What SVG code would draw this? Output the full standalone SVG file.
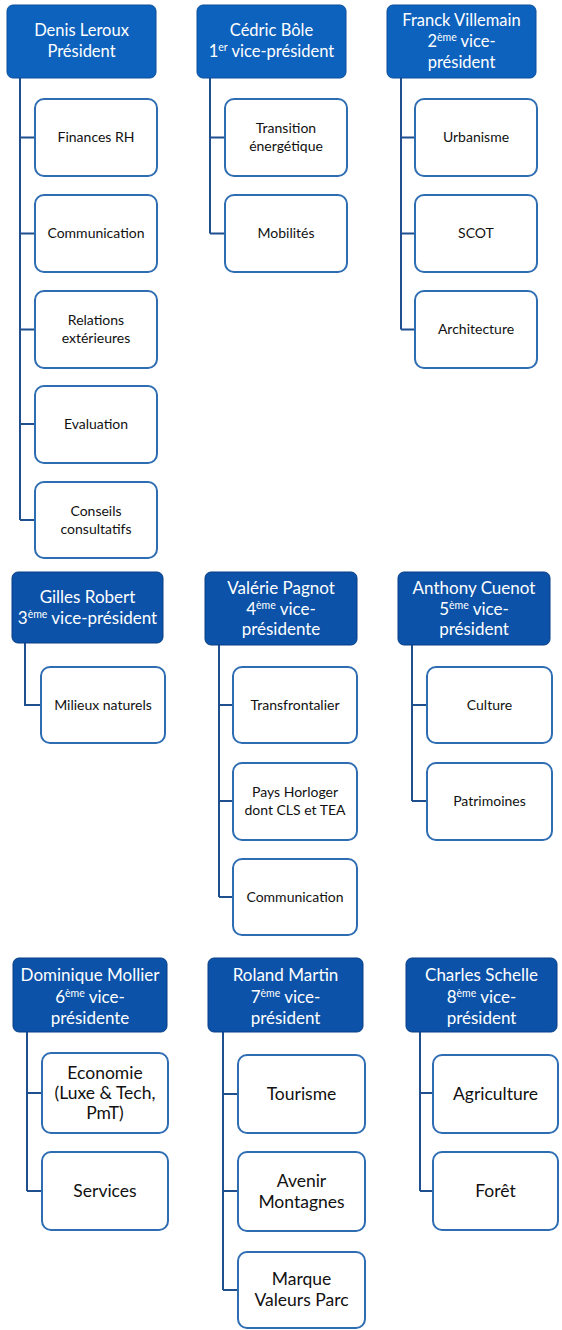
<svg xmlns="http://www.w3.org/2000/svg" width="562" height="1330" viewBox="0 0 562 1330">
<style>
.hd{fill:#0d62bd;stroke:#0a4f9c;stroke-width:1}
.hd2{fill:#0b52a8;stroke:#083f86;stroke-width:1}
.ch{fill:#ffffff;stroke:#2f6db3;stroke-width:2}
.ht{font-family:Lato,"Open Sans",sans-serif;font-size:16.5px;fill:#ffffff;text-anchor:middle}
.ht2{font-family:Lato,"Open Sans",sans-serif;font-size:17px;fill:#ffffff;text-anchor:middle}
.ct{font-family:Lato,"Open Sans",sans-serif;font-size:14px;fill:#111111;text-anchor:middle}
.ct3{font-family:Lato,"Open Sans",sans-serif;font-size:17.5px;fill:#111111;text-anchor:middle}
.sup{font-size:10.5px}
.cn{fill:none;stroke:#1f4f8f;stroke-width:2}
</style>
<rect width="562" height="1330" fill="#ffffff"/>
<g id="connectors">
<path class="cn" d="M20 78V520M20 137.5H35M20 233.5H35M20 329.5H35M20 424H35M20 520H35"/>
<path class="cn" d="M210 78V233.5M210 137.5H225M210 233.5H225"/>
<path class="cn" d="M401 78V329.5M401 137.5H415M401 233.5H415M401 329.5H415"/>
<path class="cn" d="M25 643V705H41"/>
<path class="cn" d="M219 645V897M219 705H233M219 801H233M219 897H233"/>
<path class="cn" d="M412 645V801M412 705H427M412 801H427"/>
<path class="cn" d="M27 1032V1191M27 1093H42M27 1191H42"/>
<path class="cn" d="M223 1032V1290M223 1094H238M223 1191H238M223 1290H238"/>
<path class="cn" d="M420 1032V1191M420 1093H433M420 1191H433"/>
</g>
<g id="denis"><rect class="hd" x="7" y="5" width="149" height="73" rx="6"/><text class="ht" x="81.5" y="36">Denis Leroux</text><text class="ht" x="81.5" y="57">Président</text></g>
<g id="cedric"><rect class="hd" x="197" y="5" width="149" height="73" rx="6"/><text class="ht" x="271.5" y="36">Cédric Bôle</text><text class="ht" x="271.5" y="57">1<tspan class="sup" dy="-6">er</tspan><tspan dy="6"> vice-président</tspan></text></g>
<g id="franck"><rect class="hd" x="387" y="5" width="149" height="73" rx="6"/><text class="ht" x="461.5" y="26">Franck Villemain</text><text class="ht" x="461.5" y="47">2<tspan class="sup" dy="-6">ème</tspan><tspan dy="6"> vice-</tspan></text><text class="ht" x="461.5" y="68">président</text></g>
<g id="finances"><rect class="ch" x="35" y="99" width="122" height="77" rx="9"/><text class="ct" x="96" y="142">Finances RH</text></g>
<g id="communication1"><rect class="ch" x="35" y="195" width="122" height="77" rx="9"/><text class="ct" x="96" y="238">Communication</text></g>
<g id="relations"><rect class="ch" x="35" y="291" width="122" height="77" rx="9"/><text class="ct" x="96" y="325">Relations</text><text class="ct" x="96" y="343">extérieures</text></g>
<g id="evaluation"><rect class="ch" x="35" y="386" width="122" height="77" rx="9"/><text class="ct" x="96" y="429">Evaluation</text></g>
<g id="conseils"><rect class="ch" x="35" y="482" width="122" height="76" rx="9"/><text class="ct" x="96" y="516">Conseils</text><text class="ct" x="96" y="534">consultatifs</text></g>
<g id="transition"><rect class="ch" x="225" y="99" width="122" height="77" rx="9"/><text class="ct" x="286" y="133">Transition</text><text class="ct" x="286" y="151">énergétique</text></g>
<g id="mobilites"><rect class="ch" x="225" y="195" width="122" height="77" rx="9"/><text class="ct" x="286" y="238">Mobilités</text></g>
<g id="urbanisme"><rect class="ch" x="415" y="99" width="122" height="77" rx="9"/><text class="ct" x="476" y="142">Urbanisme</text></g>
<g id="scot"><rect class="ch" x="415" y="195" width="122" height="77" rx="9"/><text class="ct" x="476" y="238">SCOT</text></g>
<g id="architecture"><rect class="ch" x="415" y="291" width="122" height="77" rx="9"/><text class="ct" x="476" y="334">Architecture</text></g>
<g id="gilles"><rect class="hd2" x="12" y="572" width="151" height="71" rx="6"/><text class="ht2" x="87.5" y="603">Gilles Robert</text><text class="ht2" x="87.5" y="624">3<tspan class="sup" dy="-6">ème</tspan><tspan dy="6"> vice-président</tspan></text></g>
<g id="valerie"><rect class="hd2" x="205" y="572" width="152" height="73" rx="6"/><text class="ht2" x="281" y="594">Valérie Pagnot</text><text class="ht2" x="281" y="615">4<tspan class="sup" dy="-6">ème</tspan><tspan dy="6"> vice-</tspan></text><text class="ht2" x="281" y="635">présidente</text></g>
<g id="anthony"><rect class="hd2" x="398" y="572" width="152" height="73" rx="6"/><text class="ht2" x="474" y="594">Anthony Cuenot</text><text class="ht2" x="474" y="615">5<tspan class="sup" dy="-6">ème</tspan><tspan dy="6">  vice-</tspan></text><text class="ht2" x="474" y="635">président</text></g>
<g id="milieux"><rect class="ch" x="41" y="667" width="124" height="76" rx="9"/><text class="ct" x="103" y="710">Milieux naturels</text></g>
<g id="transfrontalier"><rect class="ch" x="233" y="667" width="124" height="76" rx="9"/><text class="ct" x="295" y="710">Transfrontalier</text></g>
<g id="pays"><rect class="ch" x="233" y="763" width="124" height="77" rx="9"/><text class="ct" x="295" y="797">Pays Horloger</text><text class="ct" x="295" y="815">dont CLS et TEA</text></g>
<g id="communication2"><rect class="ch" x="233" y="859" width="124" height="76" rx="9"/><text class="ct" x="295" y="902">Communication</text></g>
<g id="culture"><rect class="ch" x="427" y="667" width="125" height="76" rx="9"/><text class="ct" x="489.5" y="710">Culture</text></g>
<g id="patrimoines"><rect class="ch" x="427" y="763" width="125" height="77" rx="9"/><text class="ct" x="489.5" y="806">Patrimoines</text></g>
<g id="dominique"><rect class="hd2" x="13" y="958" width="154" height="74" rx="6"/><text class="ht2" x="90" y="981">Dominique Mollier</text><text class="ht2" x="90" y="1003">6<tspan class="sup" dy="-6">ème</tspan><tspan dy="6">  vice-</tspan></text><text class="ht2" x="90" y="1024">présidente</text></g>
<g id="roland"><rect class="hd2" x="208" y="958" width="155" height="74" rx="6"/><text class="ht2" x="285.5" y="981">Roland Martin</text><text class="ht2" x="285.5" y="1003">7<tspan class="sup" dy="-6">ème</tspan><tspan dy="6">  vice-</tspan></text><text class="ht2" x="285.5" y="1024">président</text></g>
<g id="charles"><rect class="hd2" x="406" y="958" width="151" height="74" rx="6"/><text class="ht2" x="481.5" y="981">Charles Schelle</text><text class="ht2" x="481.5" y="1003">8<tspan class="sup" dy="-6">ème</tspan><tspan dy="6">  vice-</tspan></text><text class="ht2" x="481.5" y="1024">président</text></g>
<g id="economie"><rect class="ch" x="42" y="1053" width="126" height="80" rx="9"/><text class="ct3" x="105" y="1079">Economie</text><text class="ct3" x="105" y="1099">(Luxe &amp; Tech,</text><text class="ct3" x="105" y="1119">PmT)</text></g>
<g id="services"><rect class="ch" x="42" y="1152" width="126" height="78" rx="9"/><text class="ct3" x="105" y="1197">Services</text></g>
<g id="tourisme"><rect class="ch" x="238" y="1055" width="127" height="78" rx="9"/><text class="ct3" x="301.5" y="1100">Tourisme</text></g>
<g id="avenir"><rect class="ch" x="238" y="1152" width="127" height="79" rx="9"/><text class="ct3" x="301.5" y="1187">Avenir</text><text class="ct3" x="301.5" y="1208">Montagnes</text></g>
<g id="marque"><rect class="ch" x="238" y="1252" width="127" height="76" rx="9"/><text class="ct3" x="301.5" y="1285">Marque</text><text class="ct3" x="301.5" y="1306">Valeurs Parc</text></g>
<g id="agriculture"><rect class="ch" x="433" y="1055" width="125" height="78" rx="9"/><text class="ct3" x="495.5" y="1100">Agriculture</text></g>
<g id="foret"><rect class="ch" x="433" y="1152" width="125" height="78" rx="9"/><text class="ct3" x="495.5" y="1197">Forêt</text></g>
</svg>
